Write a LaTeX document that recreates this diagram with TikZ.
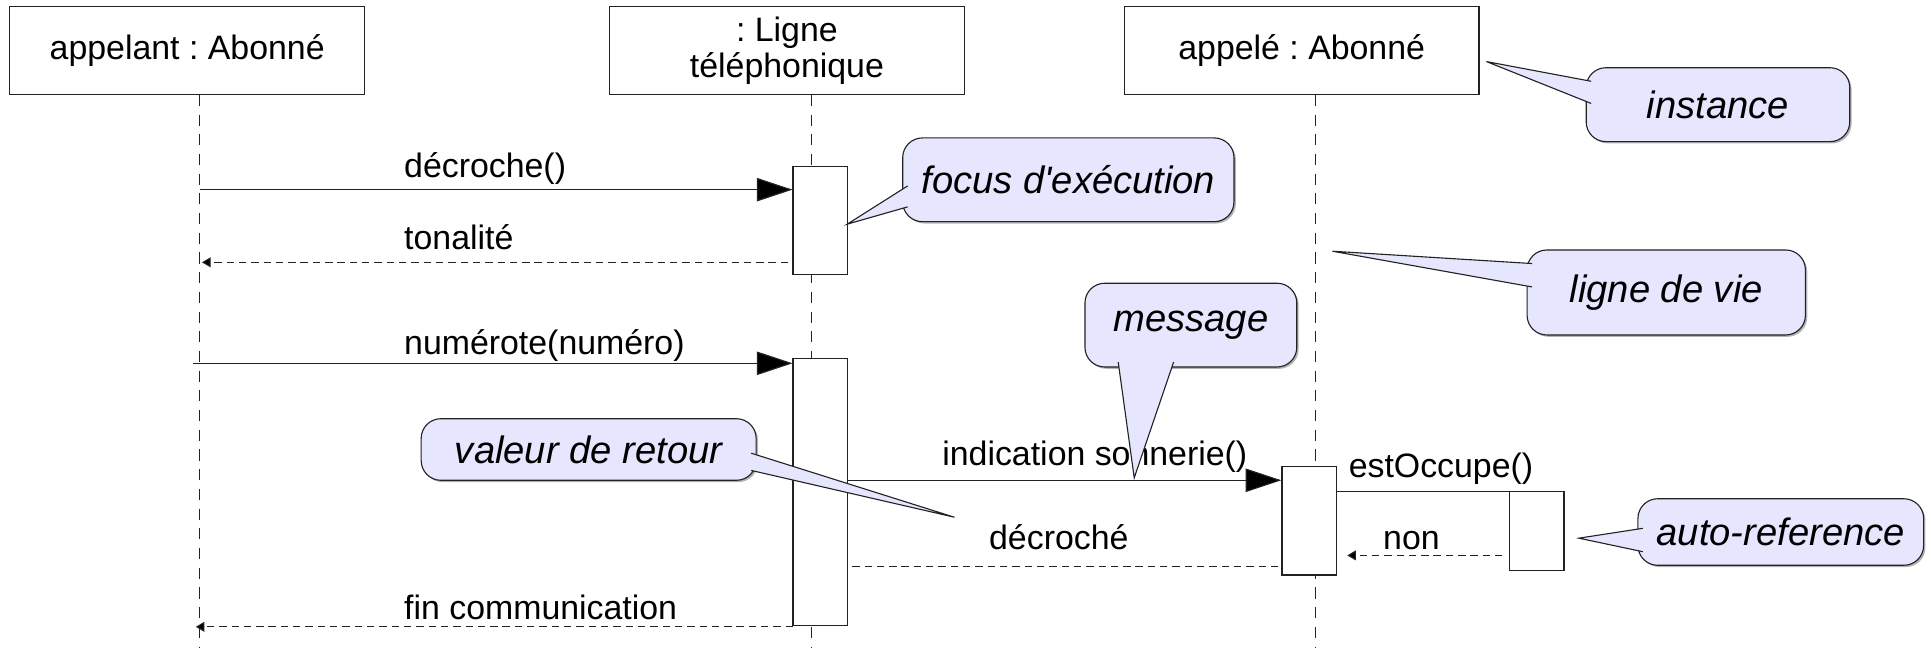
\documentclass[tikz,border=0pt]{standalone}
\usepackage{fontspec}
\setmainfont{Liberation Sans}
\newfontfamily\callfont{Liberation Sans}
\usetikzlibrary{arrows.meta,calc,shadows}
\definecolor{callfill}{HTML}{E6E6FF}
\definecolor{ln}{HTML}{222222}
\frenchspacing
\begin{document}
\begin{tikzpicture}[x=1pt,y=-1pt,
  font=\fontsize{27.5}{33}\selectfont,
  head/.style={draw=ln, line width=1pt, fill=white, minimum width=288pt, minimum height=72pt, inner sep=0pt, align=center},
  act/.style={draw=ln, line width=1pt, fill=white, minimum width=44pt, inner sep=0pt},
  life/.style={draw=ln, line width=0.9pt, dash pattern=on 9pt off 7pt},
  msg/.style={draw=ln, line width=1pt, -{Triangle[length=29pt,width=19pt,fill=black]}},
  ret/.style={draw=ln, line width=0.9pt, dash pattern=on 6pt off 4pt, -{Triangle[length=7pt,width=8pt,fill=black]}},
  retn/.style={draw=ln, line width=0.9pt, dash pattern=on 6pt off 4pt},
  lbl/.style={anchor=base west, inner sep=0pt},
  callbox/.style={draw=ln, line width=0.9pt, fill=callfill, rounded corners=16pt, inner sep=0pt,
    font=\callfont\fontsize{31}{36}\selectfont\itshape,
    drop shadow={shadow xshift=1.5pt, shadow yshift=-1.5pt, fill=black!30, opacity=1}},
  tailfill/.style={fill=callfill},
  tailline/.style={draw=ln, line width=0.9pt}]
\useasboundingbox (0,0) rectangle (1568,526);

% lifeline heads
\node[head] (h1) at (152,41) {appelant : Abonné};
\node[head] (h2) at (639,41) {: Ligne\\[-4pt]téléphonique};
\node[head] (h3) at (1057,41) {appelé : Abonné};

% lifelines
\coordinate (l1t) at (162,77); \coordinate (l1b) at (162,526);
\coordinate (l2t) at (659,77); \coordinate (l2b) at (659,526);
\coordinate (l3t) at (1068,77); \coordinate (l3b) at (1068,526);
\draw[life] (l1t) -- (l1b);
\draw[life] (l2t) -- (l2b);
\draw[life] (l3t) -- (l3b);

% activations
\node[act, minimum height=88pt] (a1) at (666,179) {};
\node[act, minimum height=217pt] (a2) at (666,399.5) {};
\node[act, minimum height=88pt] (a3) at (1063,423) {};
\node[act, minimum height=64pt] (a4) at (1248,431) {};

% messages
\coordinate (m1) at (162,154);
\draw[msg] (m1) -- (a1.west |- m1);
\node[lbl] (t1) at (328,144) {décroche()};

\coordinate (m2s) at (640,213); \coordinate (m2e) at (164,213);
\draw[ret] (m2s) -- (m2e);
\node[lbl] (t2) at (328,203) {tonalité};

\coordinate (m3) at (157,295);
\draw[msg] (m3) -- (a2.west |- m3);
\node[lbl] (t3) at (328,288) {numérote(numéro)};

\coordinate (m4) at (688,390);
\draw[msg] (m4) -- (a3.west |- m4);
\node[lbl] (t4) at (765,378) {indication sonnerie()};

\coordinate (m5) at (1085,399);
\draw[draw=ln, line width=1pt] (m5) -- (a4.west |- m5);
\node[lbl] (t5) at (1095,388) {estOccupe()};

\coordinate (m6s) at (1220,451); \coordinate (m6e) at (1094,451);
\draw[ret] (m6s) -- (m6e);
\node[lbl] (t6) at (1123,446) {non};

\coordinate (m7s) at (1038,460); \coordinate (m7e) at (690,460);
\draw[retn] (m7s) -- (m7e);
\node[lbl] (t7) at (803,446) {décroché};

\coordinate (m8s) at (644,509); \coordinate (m8e) at (159,509);
\draw[ret] (m8s) -- (m8e);
\node[lbl] (t8) at (328,503) {fin communication};

% callouts
% instance
\node[callbox, minimum width=214pt, minimum height=60pt] (c1) at (1395,85) {instance};
\coordinate (p1) at (1207,50); \coordinate (b1a) at (1292,66); \coordinate (b1b) at (1292,84);
\fill[tailfill] (b1a) -- (p1) -- (b1b) -- cycle;
\draw[tailline] (b1a) -- (p1) -- (b1b);

% focus d'execution
\node[callbox, minimum width=269pt, minimum height=68pt] (c2) at (867.5,146) {focus d'exécution};
\coordinate (p2) at (688,182); \coordinate (b2a) at (737,151); \coordinate (b2b) at (737,168);
\fill[tailfill] (b2a) -- (p2) -- (b2b) -- cycle;
\draw[tailline] (b2a) -- (p2) -- (b2b);

% ligne de vie
\node[callbox, minimum width=226pt, minimum height=69pt] (c3) at (1353,237.5) {ligne de vie};
\coordinate (p3) at (1082,204); \coordinate (b3a) at (1244,214); \coordinate (b3b) at (1244,233);
\fill[tailfill] (b3a) -- (p3) -- (b3b) -- cycle;
\draw[tailline] (b3a) -- (p3) -- (b3b);

% message
\node[callbox, minimum width=172pt, minimum height=68pt] (c4) at (967,264) {message};
\coordinate (p4) at (921,388); \coordinate (b4a) at (908,294); \coordinate (b4b) at (953,294);
\fill[tailfill] (b4a) -- (p4) -- (b4b) -- cycle;
\draw[tailline] (b4a) -- (p4) -- (b4b);

% valeur de retour
\node[callbox, minimum width=272pt, minimum height=50pt] (c5) at (478,365) {valeur de retour};
\coordinate (p5) at (775,420); \coordinate (b5a) at (610,368); \coordinate (b5b) at (610,382);
\fill[tailfill] (b5a) -- (p5) -- (b5b) -- cycle;
\draw[tailline] (b5a) -- (p5) -- (b5b);

% auto-reference
\node[callbox, minimum width=232pt, minimum height=54pt] (c6) at (1446,432) {auto-reference};
\coordinate (p6) at (1282,437); \coordinate (b6a) at (1334,429); \coordinate (b6b) at (1334,448);
\fill[tailfill] (b6a) -- (p6) -- (b6b) -- cycle;
\draw[tailline] (b6a) -- (p6) -- (b6b);
\end{tikzpicture}
\end{document}
